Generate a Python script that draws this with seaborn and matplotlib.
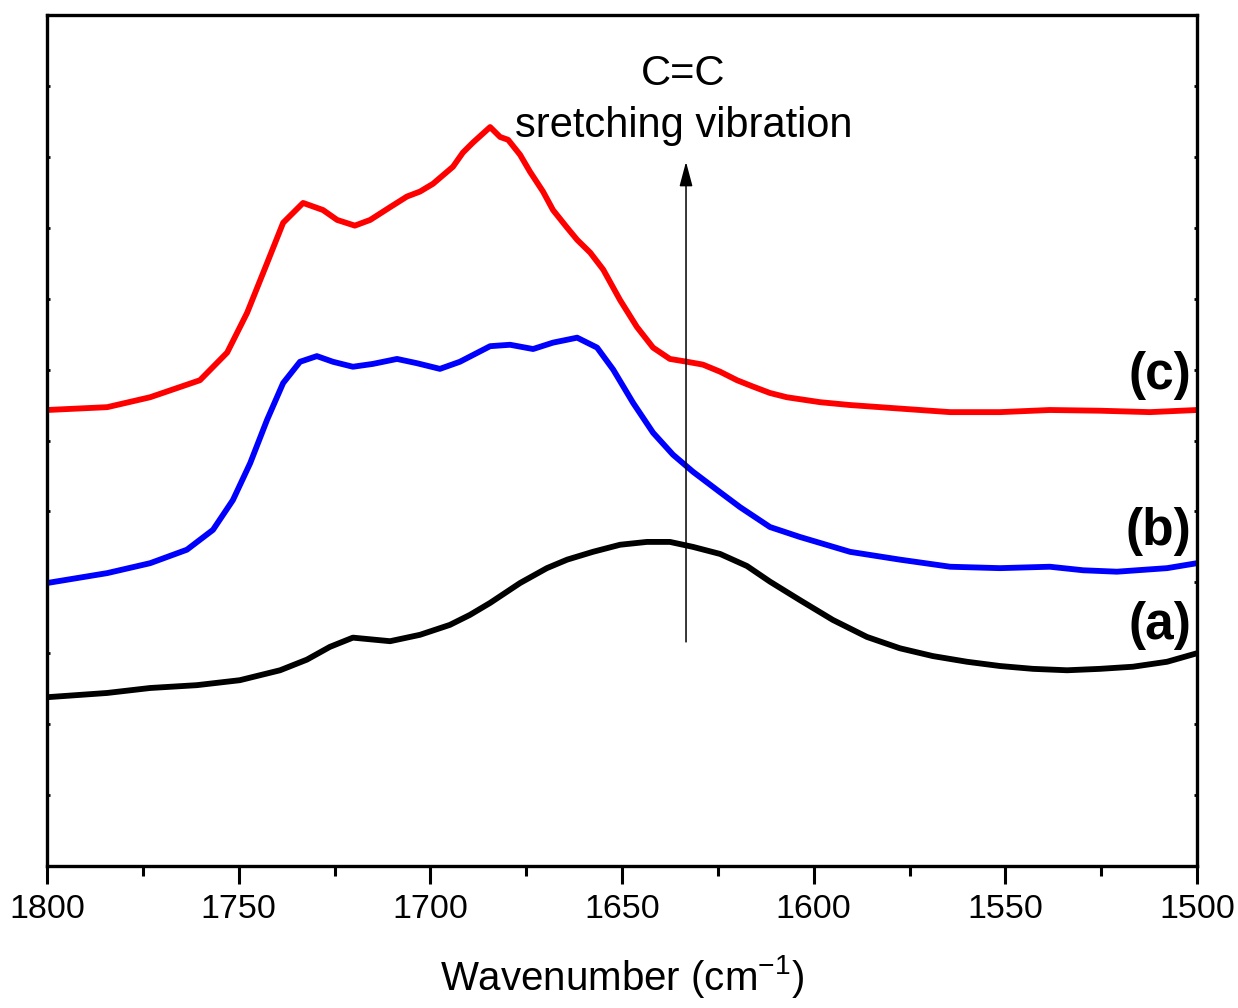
import numpy as np
import pandas as pd
import matplotlib
matplotlib.use("Agg")
import matplotlib.pyplot as plt
from matplotlib.ticker import MultipleLocator
import seaborn as sns

# ---- data ----
wn_c = [1800, 1784.3, 1773.1, 1760.1, 1753.0, 1747.8, 1742.6, 1738.4, 1733.2, 1728.0,
        1724.3, 1719.7, 1715.7, 1710.5, 1706.1, 1702.7, 1699.3, 1694.1, 1691.5, 1688.9,
        1684.4, 1681.8, 1679.7, 1676.6, 1674.0, 1670.6, 1668.0, 1664.3, 1661.7, 1658.3,
        1654.9, 1650.5, 1646.1, 1641.9, 1637.5, 1633.0, 1628.9, 1624.4, 1620.0, 1615.8,
        1611.4, 1607.0, 1598.3, 1590.5, 1577.5, 1564.4, 1551.4, 1538.4, 1525.3, 1512.3, 1500]
int_c = [6.43, 6.47, 6.61, 6.85, 7.24, 7.80, 8.50, 9.07, 9.35, 9.25,
         9.11, 9.03, 9.11, 9.29, 9.44, 9.51, 9.62, 9.86, 10.06, 10.20,
         10.42, 10.28, 10.24, 10.03, 9.79, 9.51, 9.25, 9.00, 8.83, 8.65,
         8.41, 7.98, 7.60, 7.31, 7.15, 7.11, 7.07, 6.97, 6.85, 6.76,
         6.67, 6.61, 6.54, 6.50, 6.45, 6.40, 6.40, 6.43, 6.42, 6.40, 6.43]

wn_b = [1800, 1784.3, 1773.1, 1763.5, 1756.7, 1751.5, 1747.0, 1742.6, 1738.4, 1734.0,
        1729.6, 1725.4, 1720.2, 1715.0, 1708.7, 1703.5, 1697.5, 1692.3, 1684.4, 1679.2,
        1673.2, 1668.0, 1661.7, 1656.5, 1652.3, 1647.1, 1641.9, 1636.7, 1631.5, 1624.4,
        1619.2, 1611.4, 1603.6, 1590.5, 1577.5, 1564.4, 1551.4, 1538.4, 1529.7, 1520.9,
        1507.8, 1500]
int_b = [3.99, 4.13, 4.27, 4.46, 4.74, 5.16, 5.68, 6.29, 6.81, 7.11,
         7.19, 7.11, 7.04, 7.08, 7.15, 7.09, 7.01, 7.11, 7.33, 7.35,
         7.29, 7.38, 7.45, 7.31, 7.00, 6.53, 6.11, 5.80, 5.56, 5.27,
         5.06, 4.78, 4.64, 4.43, 4.32, 4.22, 4.20, 4.22, 4.17, 4.15,
         4.20, 4.27]

wn_a = [1800, 1784.3, 1773.1, 1760.9, 1749.7, 1739.2, 1732.2, 1726.2, 1720.2, 1710.5,
        1702.7, 1694.9, 1689.7, 1684.4, 1676.6, 1669.6, 1664.3, 1657.6, 1650.5, 1643.5,
        1637.5, 1631.5, 1624.4, 1617.4, 1611.4, 1603.6, 1595.0, 1586.1, 1577.5, 1568.9,
        1560.0, 1551.4, 1542.8, 1533.9, 1525.3, 1516.7, 1507.8, 1500]
int_a = [2.38, 2.44, 2.51, 2.55, 2.62, 2.76, 2.91, 3.09, 3.22, 3.17,
         3.26, 3.40, 3.54, 3.71, 3.99, 4.20, 4.32, 4.43, 4.53, 4.57,
         4.57, 4.50, 4.40, 4.23, 4.01, 3.75, 3.47, 3.23, 3.07, 2.96,
         2.88, 2.82, 2.78, 2.76, 2.78, 2.81, 2.88, 3.00]

series_labels = ["(a)", "(b)", "(c)"]
series_colors = ["#000000", "#0000ff", "#ff0000"]
label_y = [3.39, 4.72, 6.91]

x_ticks = [1800, 1750, 1700, 1650, 1600, 1550, 1500]
arrow_x = 1633.3
arrow_y = (3.16, 9.93)
annot_line1 = "C=C"
annot_line2 = "sretching vibration"
x_label = "Wavenumber (cm$^{-1}$)"

# ---- style ----
sns.set_theme(style="ticks")
plt.rcParams['font.family'] = ['Liberation Sans', 'DejaVu Sans']
plt.rcParams['mathtext.fontset'] = 'custom'
plt.rcParams['mathtext.rm'] = 'Liberation Sans'
plt.rcParams['mathtext.it'] = 'Liberation Sans:italic'
plt.rcParams['mathtext.bf'] = 'Liberation Sans:bold'
plt.rcParams['text.color'] = 'black'
plt.rcParams['axes.labelcolor'] = 'black'
plt.rcParams['xtick.color'] = 'black'
plt.rcParams['ytick.color'] = 'black'

fig = plt.figure(figsize=(12.38, 10.08), dpi=100)
ax = fig.add_axes([47/1238, 1 - 866/1008, (1197-47)/1238, (866-15)/1008])

frames = []
for lab, wn, it in zip(series_labels, [wn_a, wn_b, wn_c], [int_a, int_b, int_c]):
    frames.append(pd.DataFrame({"wn": wn, "y": it, "s": lab}))
df = pd.concat(frames, ignore_index=True)

sns.lineplot(data=df, x="wn", y="y", hue="s", palette=dict(zip(series_labels, series_colors)),
             linewidth=4.2, legend=False, ax=ax, sort=False, estimator=None)
for ln in ax.lines:
    ln.set_solid_joinstyle('round')
    ln.set_solid_capstyle('round')

ax.set_xlim(1800, 1500)
ax.set_ylim(0, 12)
ax.set_xticks(x_ticks)
ax.xaxis.set_minor_locator(MultipleLocator(25))
ax.set_yticks(np.arange(1, 12))
ax.set_yticklabels([])
ax.tick_params(axis='x', which='major', direction='out', length=13, width=2.2,
               labelsize=24.5, pad=7, colors='black', top=False)
ax.tick_params(axis='x', which='minor', direction='out', length=7, width=2.2, top=False)
ax.tick_params(axis='y', which='major', direction='in', length=2.5, width=2,
               left=True, right=True, labelleft=False)
for sp in ax.spines.values():
    sp.set_visible(True)
    sp.set_linewidth(2.4)
    sp.set_color('black')

ax.set_xlabel(x_label, fontsize=29, labelpad=20, color='black')
ax.set_ylabel("")

for lab, yy in zip(series_labels, label_y):
    ax.text(1501.5, yy, lab, fontsize=37, fontweight='bold', ha='right', va='center',
            color='black')

ax.annotate("", xy=(arrow_x, arrow_y[1]), xytext=(arrow_x, arrow_y[0]),
            arrowprops=dict(arrowstyle='-|>,head_length=0.75,head_width=0.2',
                            mutation_scale=20, lw=1.1, color='black',
                            shrinkA=0, shrinkB=0))
ax.text(1634.1, 11.17, annot_line1, fontsize=30, ha='center', va='center', color='black')
ax.text(1633.8, 10.43, annot_line2, fontsize=30, ha='center', va='center', color='black')

fig.savefig("out.png", dpi=100)
